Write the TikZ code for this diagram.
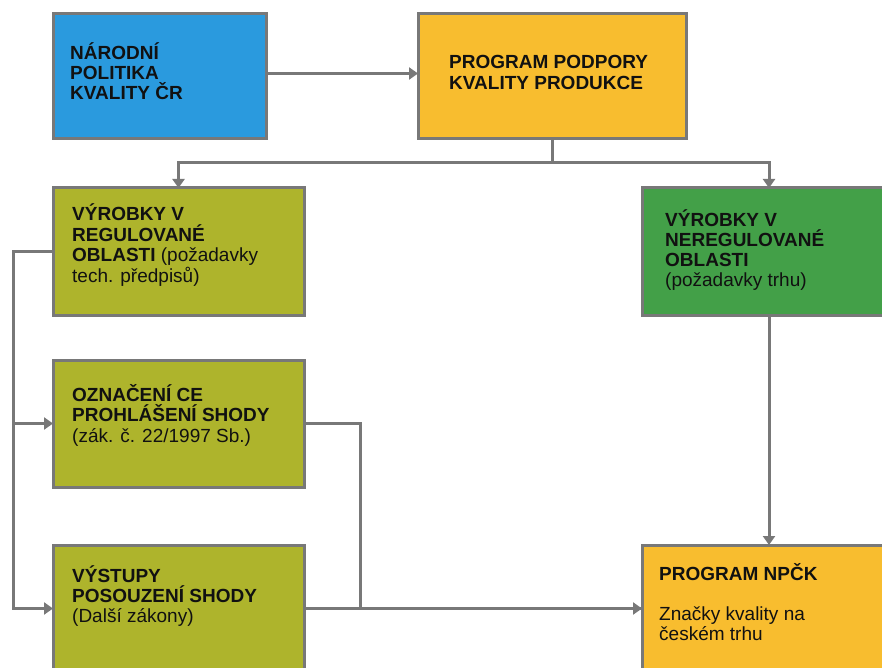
\documentclass[tikz,border=0pt]{standalone}
\usepackage{fontspec}
\setmainfont{Liberation Sans}
\usetikzlibrary{arrows.meta}
\definecolor{cblue}{HTML}{2A9ADE}
\definecolor{corange}{HTML}{F8BD2F}
\definecolor{colive}{HTML}{AEB42C}
\definecolor{cgreen}{HTML}{43A048}
\definecolor{cgray}{HTML}{787878}
\definecolor{ctext}{HTML}{111111}
\tikzset{
  box/.style={draw=cgray, line width=3pt, rectangle, inner sep=0pt, outer sep=0pt, anchor=north west},
  txt/.style={anchor=base west, inner sep=0pt, text=ctext, font=\fontsize{19}{20}\selectfont},
  conn/.style={draw=cgray, line width=3pt},
  arr/.style={conn, -{Triangle[length=9pt,width=12pt]}},
}
\begin{document}
\begin{tikzpicture}[x=1pt,y=-1pt]
\useasboundingbox (0,0) rectangle (882,668);
\clip (0,0) rectangle (882,668);
\fill[white] (0,0) rectangle (882,668);
% boxes
\node[box, fill=cblue, minimum width=213pt, minimum height=125pt] (nar) at (53,14) {};
\node[box, fill=corange, minimum width=268pt, minimum height=125pt] (ppk) at (418,14) {};
\node[box, fill=colive, minimum width=251pt, minimum height=127pt] (reg) at (53,188) {};
\node[box, fill=colive, minimum width=251pt, minimum height=127pt] (ozn) at (53,360) {};
\node[box, fill=colive, minimum width=251pt, minimum height=127pt] (vys) at (53,545) {};
\node[box, fill=cgreen, minimum width=254pt, minimum height=127pt] (ner) at (642,188) {};
\node[box, fill=corange, minimum width=254pt, minimum height=127pt] (npck) at (642,545) {};
% connectors
\draw[arr] ([yshift=3pt]nar.east) -- ([yshift=3pt]ppk.west);
\coordinate (split) at ([yshift=-24pt]ppk.south);
\draw[arr] (ppk.south) -- (split) -| (reg.north);
\draw[arr] (split) -| (ner.north);
\coordinate (lft) at ([xshift=-40pt]reg.west);
\draw[arr] (reg.west) -- (lft) |- (ozn.west);
\draw[arr] (lft) |- (vys.west);
\coordinate (mid) at ([xshift=56pt]ozn.east);
\draw[conn] (ozn.east) -- (mid) |- (npck.west);
\draw[arr] (vys.east) -- (npck.west);
\draw[arr] (ner.south) -- (npck.north);
% texts
\node[txt] (nar1) at (70,60) {\bfseries NÁRODNÍ};
\node[txt] (nar2) at (70,80) {\bfseries POLITIKA};
\node[txt] (nar3) at (70,100) {\bfseries KVALITY ČR};
\node[txt] (ppk1) at (449,69) {\bfseries PROGRAM PODPORY};
\node[txt] (ppk2) at (449,90) {\bfseries KVALITY PRODUKCE};
\node[txt] (reg1) at (72,221) {\bfseries VÝROBKY V};
\node[txt] (reg2) at (72,241) {\bfseries REGULOVANÉ};
\node[txt] (reg3) at (72,261) {{\bfseries OBLASTI} (požadavky};
\node[txt] (reg4) at (72,282) {tech. předpisů)};
\node[txt] (ozn1) at (72,401) {\bfseries OZNAČENÍ CE};
\node[txt] (ozn2) at (72,421) {\bfseries PROHLÁŠENÍ SHODY};
\node[txt] (ozn3) at (72,442) {(zák. č. 22/1997 Sb.)};
\node[txt] (vys1) at (72,582) {\bfseries VÝSTUPY};
\node[txt] (vys2) at (72,602) {\bfseries POSOUZENÍ SHODY};
\node[txt] (vys3) at (72,622) {(Další zákony)};
\node[txt] (ner1) at (665,226) {\bfseries VÝROBKY V};
\node[txt] (ner2) at (665,246) {\bfseries NEREGULOVANÉ};
\node[txt] (ner3) at (665,266) {\bfseries OBLASTI};
\node[txt] (ner4) at (665,286) {(požadavky trhu)};
\node[txt] (npck1) at (659,580) {\bfseries PROGRAM NPČK};
\node[txt] (npck2) at (659,620) {Značky kvality na};
\node[txt] (npck3) at (659,640) {českém trhu};
\end{tikzpicture}
\end{document}
